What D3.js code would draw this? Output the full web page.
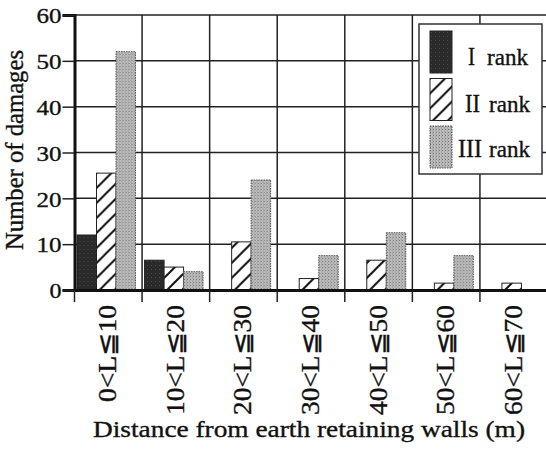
<!DOCTYPE html>
<html>
<head>
<meta charset="utf-8">
<script src="https://cdn.jsdelivr.net/npm/d3@7"></script>
<style>
  body { margin: 0; background: #fff; }
  svg text { font-family: "Times New Roman", "Liberation Serif", Times, serif; fill: #111; stroke: #111; stroke-width: 0.35; }
</style>
</head>
<body>
<svg id="chart" width="546" height="450"></svg>
<script>
// data
const categories = ["0<L≦10", "10<L≦20", "20<L≦30", "30<L≦40", "40<L≦50", "50<L≦60", "60<L≦70"];
const series     = ["I", "II", "III"];
const rankI      = [12, 6.5, 0, 0, 0, 0, 0];
const rankII     = [25.5, 5, 10.5, 2.5, 6.5, 1.5, 1.5];
const rankIII    = [52, 4, 24, 7.5, 12.5, 7.5, 0];
const yTicks     = [0, 10, 20, 30, 40, 50, 60];

const values = { I: rankI, II: rankII, III: rankIII };
const table = categories.map((c, i) => ({ cat: c, vals: series.map(s => ({ s, v: values[s][i] })) }));

const svg = d3.select("#chart");
const plotL = 74.5, plotR = 547.5, plotT = 15, plotB = 290;

const x  = d3.scaleBand().domain(categories).range([plotL, plotR]).padding(0);
const xs = d3.scaleBand().domain(series).range([2.5, 61]).padding(0);
const y  = d3.scaleLinear().domain([0, 60]).range([plotB, plotT]);

// fill patterns
const defs = svg.append("defs");
const hatch = defs.append("pattern")
  .attr("id", "hatch").attr("patternUnits", "userSpaceOnUse")
  .attr("width", 15).attr("height", 15);
hatch.append("rect").attr("width", 15).attr("height", 15).attr("fill", "#fff");
hatch.append("path").attr("d", "M-2,17 L17,-2 M-4,4 L4,-4 M11,19 L19,11")
  .attr("stroke", "#111").attr("stroke-width", 2);

const dots = defs.append("pattern")
  .attr("id", "dots").attr("patternUnits", "userSpaceOnUse")
  .attr("width", 3).attr("height", 3);
dots.append("rect").attr("width", 3).attr("height", 3).attr("fill", "#bcbcbc");
dots.append("rect").attr("width", 1).attr("height", 1).attr("fill", "#727272");
dots.append("rect").attr("x", 2).attr("y", 1.5).attr("width", 1).attr("height", 1).attr("fill", "#8c8c8c");

const dark = defs.append("pattern")
  .attr("id", "dark").attr("patternUnits", "userSpaceOnUse")
  .attr("width", 4).attr("height", 4);
dark.append("rect").attr("width", 4).attr("height", 4).attr("fill", "#2a2a2a");
dark.append("rect").attr("x", 1).attr("y", 1).attr("width", 1).attr("height", 1).attr("fill", "#4a4a4a");

const fills = { I: "url(#dark)", II: "url(#hatch)", III: "url(#dots)" };

// horizontal grid
svg.append("g")
  .selectAll("line").data(yTicks).join("line")
  .attr("x1", plotL).attr("x2", plotR)
  .attr("y1", d => y(d)).attr("y2", d => y(d))
  .attr("stroke", "#222").attr("stroke-width", 1.5);

// vertical grid at group boundaries
svg.append("g")
  .selectAll("line").data(categories.slice(1)).join("line")
  .attr("x1", d => x(d)).attr("x2", d => x(d))
  .attr("y1", plotT).attr("y2", plotB)
  .attr("stroke", "#222").attr("stroke-width", 1.5);

// bars
svg.append("g")
  .selectAll("g").data(table).join("g")
  .attr("transform", d => `translate(${x(d.cat)},0)`)
  .selectAll("rect").data(d => d.vals.filter(e => e.v > 0)).join("rect")
  .attr("x", d => xs(d.s))
  .attr("width", xs.bandwidth())
  .attr("y", d => y(d.v))
  .attr("height", d => y(0) - y(d.v))
  .attr("fill", d => fills[d.s])
  .attr("stroke", d => d.s === "III" ? "#555" : "#222")
  .attr("stroke-dasharray", d => d.s === "III" ? "1.5,1" : null)
  .attr("stroke-width", 1);

// y axis
const yAxis = svg.append("g")
  .attr("transform", `translate(${plotL},0)`)
  .call(d3.axisLeft(y).tickValues(yTicks).tickSize(12).tickPadding(1));
yAxis.attr("font-family", null);
yAxis.select(".domain").attr("stroke", "#111").attr("stroke-width", 3);
yAxis.selectAll(".tick line").attr("stroke", "#222").attr("stroke-width", 1.5);
yAxis.selectAll(".tick text")
  .attr("font-size", 22).attr("dy", "0.35em")
  .attr("lengthAdjust", "spacingAndGlyphs")
  .attr("textLength", d => d === 0 ? 12 : 25);

// x axis
const xAxis = svg.append("g")
  .attr("transform", `translate(0,${plotB})`)
  .call(d3.axisBottom(x).tickSize(0).tickPadding(0));
xAxis.attr("font-family", null);
xAxis.select(".domain").attr("stroke", "#111").attr("stroke-width", 3);
xAxis.selectAll(".tick text")
  .attr("font-size", 25)
  .attr("text-anchor", "end")
  .attr("dy", null)
  .attr("transform", "translate(8,15) rotate(-90)")
  .attr("x", 0).attr("y", 0)
  .attr("lengthAdjust", "spacingAndGlyphs")
  .attr("textLength", (d, i) => i === 0 ? 97 : 110);

// tick marks at group boundaries
svg.append("g")
  .selectAll("line").data(categories).join("line")
  .attr("x1", d => x(d)).attr("x2", d => x(d))
  .attr("y1", plotB).attr("y2", plotB + 12)
  .attr("stroke", "#222").attr("stroke-width", 1.5);

// axis titles
svg.append("text")
  .attr("x", 309).attr("y", 437)
  .attr("text-anchor", "middle").attr("font-size", 24)
  .attr("textLength", 432).attr("lengthAdjust", "spacingAndGlyphs")
  .text("Distance from earth retaining walls (m)");

svg.append("text")
  .attr("transform", "translate(23,150) rotate(-90)")
  .attr("text-anchor", "middle").attr("font-size", 25)
  .attr("textLength", 200).attr("lengthAdjust", "spacingAndGlyphs")
  .text("Number of damages");

// legend
const legend = svg.append("g").attr("transform", "translate(419,24)");
legend.append("rect").attr("width", 123).attr("height", 150)
  .attr("fill", "#fff").attr("stroke", "#333").attr("stroke-width", 1.5);
const item = legend.selectAll("g.item").data(series).join("g")
  .attr("class", "item")
  .attr("transform", (d, i) => `translate(11,${7 + i * 47.5})`);
item.append("rect")
  .attr("width", 22).attr("height", 42)
  .attr("fill", d => fills[d])
  .attr("stroke", d => d === "III" ? "#555" : "#222")
  .attr("stroke-dasharray", d => d === "III" ? "1.5,1" : null)
  .attr("stroke-width", 1);
item.append("text")
  .attr("x", (d, i) => [38, 35, 28][i]).attr("y", (d, i) => [34, 33, 31][i])
  .attr("font-size", 26)
  .attr("textLength", (d, i) => [7, 15, 24][i]).attr("lengthAdjust", "spacingAndGlyphs")
  .text(d => d);
item.append("text")
  .attr("x", (d, i) => [57, 59, 59][i]).attr("y", (d, i) => [34, 33, 31][i])
  .attr("font-size", 23)
  .attr("textLength", 41).attr("lengthAdjust", "spacingAndGlyphs")
  .text("rank");
</script>
</body>
</html>
